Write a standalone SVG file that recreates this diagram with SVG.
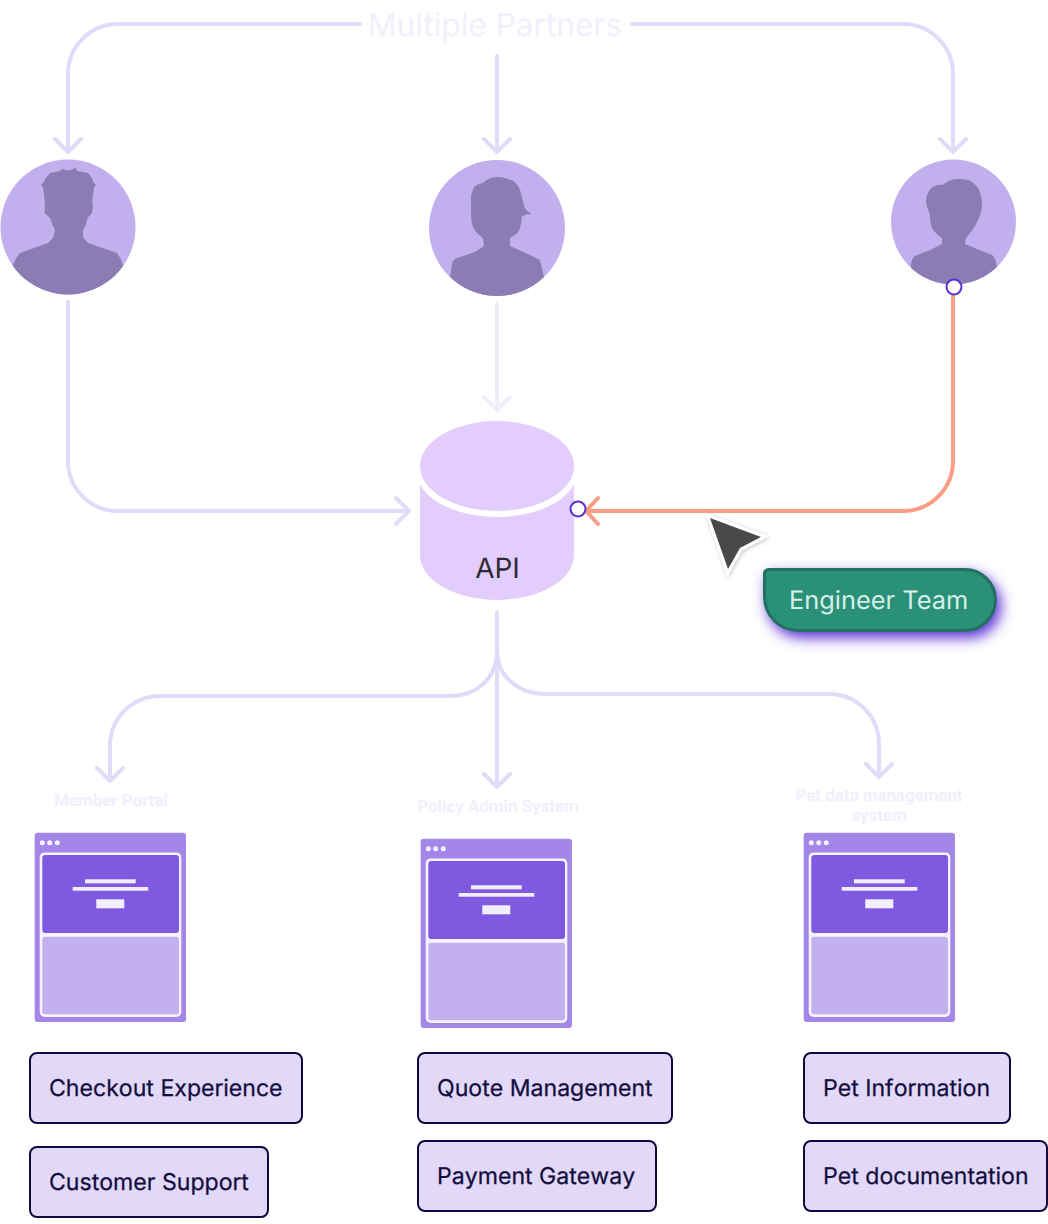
<svg xmlns="http://www.w3.org/2000/svg" width="1048" height="1224" viewBox="0 0 1048 1224" text-rendering="geometricPrecision">
<style>
.c{fill:none;stroke:#e1daf8;stroke-width:4;stroke-linecap:round;stroke-linejoin:round}
.o{fill:none;stroke:#fb9c85;stroke-width:4;stroke-linecap:round;stroke-linejoin:round}
.l{stroke:#f0edfb}
.sil{fill:#8c7cb4}
.av{fill:#c1afee}
.lab{font-family:Roboto,"Liberation Sans",sans-serif;font-weight:700;font-size:16.9px;fill:#f2eefc;text-anchor:middle}
.box rect{fill:#e2d9f8;stroke:#120a3e;stroke-width:2}
.box text{font-family:Inter,"Liberation Sans",sans-serif;font-size:23.1px;fill:#140d3f;stroke:#140d3f;stroke-width:.25;font-kerning:none}
.h{fill:#fff;stroke:#5b30d6;stroke-width:2}
.wl{fill:#f2eefc}
</style>
<defs>
<clipPath id="c1"><circle cx="68" cy="227" r="67.5"/></clipPath>
<clipPath id="c2"><circle cx="497" cy="228" r="68"/></clipPath>
<clipPath id="c3"><circle cx="953.5" cy="222" r="62.5"/></clipPath>
<filter id="bs" x="-20%" y="-50%" width="140%" height="200%"><feDropShadow dx="4" dy="6" stdDeviation="7" flood-color="#5b30d6" flood-opacity="1"/></filter>
<filter id="cs" x="-40%" y="-40%" width="180%" height="180%"><feDropShadow dx="1" dy="1" stdDeviation="2" flood-color="#000" flood-opacity="0.25"/></filter>
<g id="win">
<rect x="34.7" y="832.7" width="151.3" height="189.3" rx="3" fill="#a386e8"/>
<circle cx="42.3" cy="842.7" r="2.5" fill="#f6f3fe"/><circle cx="49.7" cy="842.7" r="2.5" fill="#f6f3fe"/><circle cx="57.3" cy="842.7" r="2.5" fill="#f6f3fe"/>
<rect x="39.7" y="852.4" width="141.6" height="164.6" rx="5" fill="#f6f3fe"/>
<rect x="42.3" y="855" width="136.7" height="78" rx="3" fill="#7f5ae0"/>
<rect x="42.3" y="936.7" width="136.7" height="77.5" rx="3" fill="#c3b0ee"/>
<rect class="wl" x="85" y="879.3" width="50.7" height="4"/>
<rect class="wl" x="72.7" y="887" width="75.6" height="3.7"/>
<rect class="wl" x="96.3" y="899.3" width="28" height="9"/>
</g>
</defs>

<g id="connectors">
<path class="c" d="M360,24H118A50,50 0 0 0 68,74V152M55,139L68,152L81,139"/>
<path class="c" d="M632,24H904A50,50 0 0 1 953,74V152M940,139L953,152L966,139"/>
<path class="c" d="M497,56V152M484,139L497,152L510,139"/>
<path class="c" d="M68,302V461A50,50 0 0 0 118,511H409M396,498L409,511L396,524"/>
<path class="c l" d="M497,303V410M484,397L497,410L510,397"/>
<path class="o" d="M953,295V461A50,50 0 0 1 903,511H586M598,498L586,511L598,524"/>
<path class="c" d="M497,612V787M484,774L497,787L510,774"/>
<path class="c" d="M497,650C497,680 475,696 450,696H160A50,50 0 0 0 110,746V781M97,768L110,781L123,768"/>
<path class="c" d="M497,650C497,678 520,694 545,694H829A50,50 0 0 1 879,744V777M866,764L879,777L892,764"/>
</g>

<g id="title"><text x="495" y="36" text-anchor="middle" font-family="Inter,'Liberation Sans',sans-serif" font-size="31.6" fill="#f2eefc">Multiple Partners</text></g>

<g id="partner-1">
<circle class="av" cx="68" cy="227" r="67.5"/>
<path class="sil" clip-path="url(#c1)" d="M41,185L43,183Q46,177 50,173L60,171L62,169L68,170.500L76,168L77,171L88,173Q92,177 94,183L96,185L94,187L92,203L93,206L92,213L87.500,218Q86,226 83,230L83,237L88,243L117,253Q121,258 123,265L140,300H0L13,265Q16,257 20,253L48,243L53,238L55,230Q52,224 50,218L44.500,213L45,203L43,187Z"/>
</g>
<g id="partner-2">
<circle class="av" cx="497" cy="228" r="68"/>
<path class="sil" clip-path="url(#c2)" d="M498,177C491,177 486,180 483,183C477,184 473,187 473,190C470,196 471,200 471,205C471,215 471,221 473,227C476,233 480,236 483,238L484,246L475,252L457,258C453,260 452,262 452,265L450,277V300H544V277L540,260L530,255L510,246V238C516,235 519,232 520,228C521,224 522,220 522,215L524,217L525,214.500L532,214C527,212 526,209 525,208C522,200 522,195 520,190C518,184 513,180 510,180C506,178 502,177 498,177Z"/>
</g>
<g id="partner-3">
<circle class="av" cx="953.5" cy="222" r="62.5"/>
<path class="sil" clip-path="url(#c3)" d="M958,179C951,179 946,182 943,185C937,184 928,186 926,200C926,207 929,211 930,215C930,222 931,225 932,228C935,233 939,236 942,238V244L930,250L915,256C912,258 911,263 911,267V300H997V267C996,260 994,256 992,255L977,249L965,244L966,238C971,232 975,227 977,222C980,216 982,211 982,205C982,197 980,192 978,188C975,184 972,181 968,180C965,179 962,179 958,179Z"/>
</g>

<g id="api">
<path d="M420,466V555A77,45 0 0 0 574,555V466Z" fill="#e3cdfd"/>
<ellipse cx="497" cy="472" rx="80" ry="45" fill="#fff"/>
<ellipse cx="497" cy="466" rx="77" ry="45" fill="#e3cdfd"/>
<text x="497.500" y="578" text-anchor="middle" font-family="Inter,'Liberation Sans',sans-serif" font-size="28" fill="#2d2a33">API</text>
</g>

<g id="handles">
<circle class="h" cx="954" cy="287" r="7.5"/>
<circle class="h" cx="578" cy="509" r="7.5"/>
</g>

<g id="cursor"><path d="M710,518L761,537L740,548L728,569Z" fill="#4a4a4a" stroke="#fff" stroke-width="6" paint-order="stroke" stroke-linejoin="miter" filter="url(#cs)"/></g>

<g id="engineer-team">
<path d="M764.500,574A4,4 0 0 1 768.500,569.500H965A30.500,30.500 0 0 1 995.500,600A30.500,30.500 0 0 1 965,630.500H798A33.500,33.500 0 0 1 764.500,597Z" fill="#2a9078" stroke="#226f5e" stroke-width="3" filter="url(#bs)"/>
<text x="789" y="609" font-family="Inter,'Liberation Sans',sans-serif" font-size="25.4" fill="#d5efe8">Engineer Team</text>
</g>

<g id="member-portal">
<text class="lab" x="111" y="806">Member Portal</text>
<use href="#win"/>
</g>
<g id="policy-admin">
<text class="lab" x="498" y="812">Policy Admin System</text>
<use href="#win" x="386" y="6"/>
</g>
<g id="pet-data">
<text class="lab" x="879" y="801">Pet data management</text>
<text class="lab" x="879" y="821">system</text>
<use href="#win" x="769"/>
</g>

<g id="checkout" class="box"><rect x="30" y="1053" width="272" height="70" rx="7"/><text x="49" y="1096">Checkout Experience</text></g>
<g id="customer-support" class="box"><rect x="30" y="1147" width="238" height="70" rx="7"/><text x="49" y="1190">Customer Support</text></g>
<g id="quote" class="box"><rect x="418" y="1053" width="254" height="70" rx="7"/><text x="437" y="1096">Quote Management</text></g>
<g id="payment" class="box"><rect x="418" y="1141" width="238" height="70" rx="7"/><text x="437" y="1184">Payment Gateway</text></g>
<g id="pet-info" class="box"><rect x="804" y="1053" width="206" height="70" rx="7"/><text x="823" y="1096">Pet Information</text></g>
<g id="pet-doc" class="box"><rect x="804" y="1141" width="243" height="70" rx="7"/><text x="823" y="1184">Pet documentation</text></g>
</svg>
